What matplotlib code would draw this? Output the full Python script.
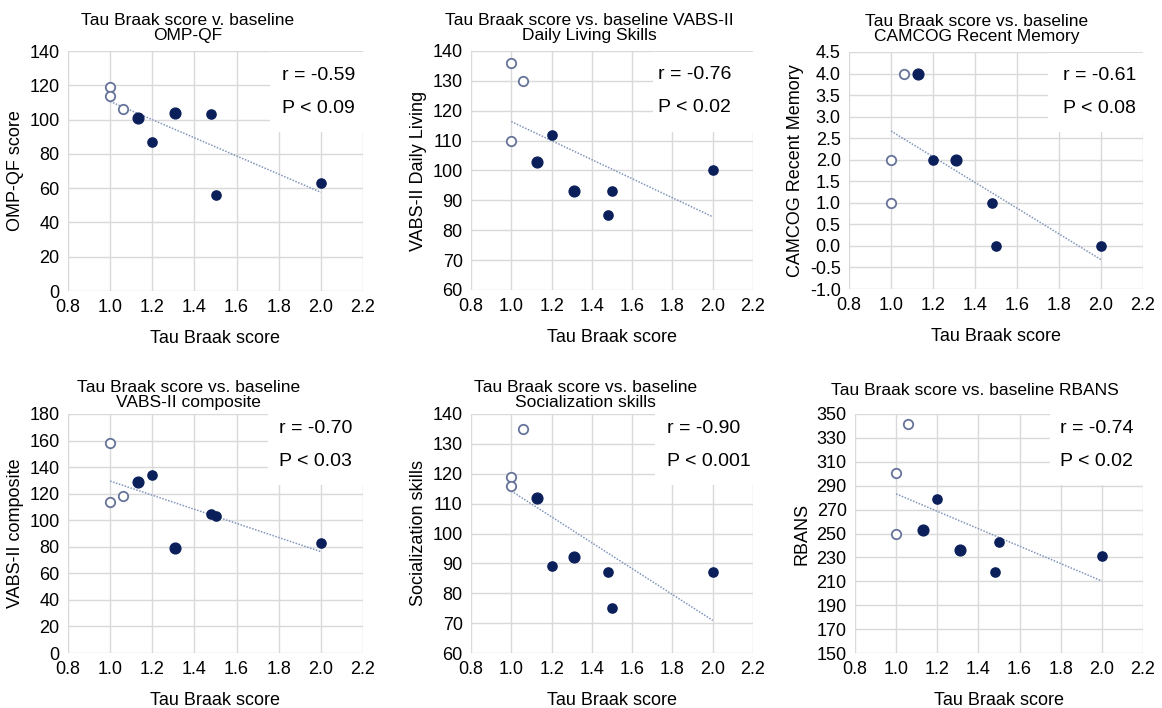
import numpy as np
import matplotlib
matplotlib.use('Agg')
import matplotlib.pyplot as plt
from matplotlib.patches import Rectangle

plt.rcParams['font.family'] = ['Liberation Sans', 'DejaVu Sans']

# per panel: Tau Braak score (x), baseline score (y), 1 = open circle subject
omp_x = [1.0, 1.0, 1.06, 1.13, 1.2, 1.31, 1.48, 1.5, 2.0]
omp_y = [119, 114, 106, 101, 87, 104, 103, 56, 63]
omp_open = [1, 1, 1, 0, 0, 0, 0, 0, 0]

daily_x = [1.0, 1.06, 1.0, 1.13, 1.2, 1.31, 1.48, 1.5, 2.0]
daily_y = [136, 130, 110, 103, 112, 93, 85, 93, 100]
daily_open = [1, 1, 1, 0, 0, 0, 0, 0, 0]

camcog_x = [1.06, 1.0, 1.0, 1.13, 1.2, 1.31, 1.48, 1.5, 2.0]
camcog_y = [4, 2, 1, 4, 2, 2, 1, 0, 0]
camcog_open = [1, 1, 1, 0, 0, 0, 0, 0, 0]

comp_x = [1.0, 1.0, 1.06, 1.13, 1.2, 1.31, 1.48, 1.5, 2.0]
comp_y = [158, 114, 118, 129, 134, 79, 105, 103, 83]
comp_open = [1, 1, 1, 0, 0, 0, 0, 0, 0]

social_x = [1.06, 1.0, 1.0, 1.13, 1.2, 1.31, 1.48, 1.5, 2.0]
social_y = [135, 119, 116, 112, 89, 92, 87, 75, 87]
social_open = [1, 1, 1, 0, 0, 0, 0, 0, 0]

rbans_x = [1.06, 1.0, 1.0, 1.13, 1.2, 1.31, 1.48, 1.5, 2.0]
rbans_y = [342, 301, 250, 253, 279, 236, 218, 243, 231]
rbans_open = [1, 1, 1, 0, 0, 0, 0, 0, 0]

titles = ['Tau Braak score v. baseline\nOMP-QF',
          'Tau Braak score vs. baseline VABS-II\nDaily Living Skills',
          'Tau Braak score vs. baseline\nCAMCOG Recent Memory',
          'Tau Braak score vs. baseline\nVABS-II composite',
          'Tau Braak score vs. baseline\nSocialization skills',
          'Tau Braak score vs. baseline RBANS']
ylabels = ['OMP-QF score', 'VABS-II Daily Living', 'CAMCOG Recent Memory',
           'VABS-II composite', 'Socialization skills', 'RBANS']
r_text = ['r = -0.59', 'r = -0.76', 'r = -0.61', 'r = -0.70', 'r = -0.90', 'r = -0.74']
p_text = ['P < 0.09', 'P < 0.02', 'P < 0.08', 'P < 0.03', 'P < 0.001', 'P < 0.02']
y_ticks = [np.arange(0, 141, 20), np.arange(60, 141, 10), np.arange(-1.0, 4.51, 0.5),
           np.arange(0, 181, 20), np.arange(60, 141, 10), np.arange(150, 351, 20)]
x_ticks = [0.8, 1.0, 1.2, 1.4, 1.6, 1.8, 2.0, 2.2]

xs = [omp_x, daily_x, camcog_x, comp_x, social_x, rbans_x]
ys = [omp_y, daily_y, camcog_y, comp_y, social_y, rbans_y]
opens = [omp_open, daily_open, camcog_open, comp_open, social_open, rbans_open]

W, H = 1162, 708
# axes boxes in pixels: left, right, top, bottom
boxes = [(68, 363, 51, 291), (471, 753, 51, 290), (849, 1143, 52, 289),
         (68, 363, 414, 653), (471, 753, 414, 653), (855, 1143, 414, 653)]
# stat text: x, y of r line, y of P line (axes fraction)
stat_pos = [(0.727, 0.90, 0.762), (0.663, 0.90, 0.762), (0.728, 0.90, 0.762),
            (0.715, 0.94, 0.80), (0.695, 0.94, 0.80), (0.712, 0.94, 0.80)]
# white patch behind stats: x0, y0
patch_pos = [(0.685, 0.662), (0.645, 0.662), (0.677, 0.662),
             (0.678, 0.703), (0.652, 0.703), (0.677, 0.703)]
title_x = [0.405, 0.42, 0.435, 0.408, 0.405, 0.415]
title_pad = [8, 8, 8, 5, 5, 14]

navy = '#0b1f5a'
open_edge = '#66749a'
grid_c = '#d9d9d9'

fig = plt.figure(figsize=(W / 100, H / 100), dpi=100)

for i in range(6):
    l, r, t, b = boxes[i]
    ax = fig.add_axes([l / W, 1 - b / H, (r - l) / W, (b - t) / H])
    x = np.array(xs[i])
    y = np.array(ys[i])
    op = np.array(opens[i]).astype(bool)

    yt = y_ticks[i]
    ax.set_xlim(0.8, 2.2)
    ax.set_ylim(yt[0], yt[-1])
    ax.set_xticks(x_ticks)
    ax.set_xticklabels(['%.1f' % v for v in x_ticks])
    ax.set_yticks(yt)
    if i == 2:
        ax.set_yticklabels(['%.1f' % v for v in yt])
    else:
        ax.set_yticklabels(['%d' % v for v in yt])
    ax.grid(True, color=grid_c, linewidth=1.0)
    ax.set_axisbelow(True)
    for s in ax.spines.values():
        s.set_visible(False)
    ax.tick_params(length=0, labelsize=13, pad=6)

    ax.add_patch(Rectangle(patch_pos[i], 1.2, 0.335, transform=ax.transAxes,
                           facecolor='white', edgecolor='none', zorder=1.5,
                           clip_on=False))

    # linear trend over all subjects
    k, c = np.polyfit(x, y, 1)
    tx = np.array([x.min(), x.max()])
    ax.plot(tx, k * tx + c, linestyle=(0, (1, 1)), color='#8296bb',
            linewidth=1.1, zorder=2)

    ax.scatter(x[op], y[op], s=46, facecolor='white', edgecolor=open_edge,
               linewidth=1.3, zorder=3)
    big = np.isin(x, [1.13, 1.31]) & ~op
    ax.scatter(x[~op & ~big], y[~op & ~big], s=44, color=navy, zorder=3)
    ax.scatter(x[big], y[big], s=60, color=navy, zorder=3)

    sx, ry, py = stat_pos[i]
    ax.text(sx, ry, r_text[i], transform=ax.transAxes, fontsize=14,
            va='center', ha='left', zorder=4)
    ax.text(sx, py, p_text[i], transform=ax.transAxes, fontsize=14,
            va='center', ha='left', zorder=4)

    ax.set_title(titles[i], fontsize=12.5, x=title_x[i], pad=title_pad[i],
                 linespacing=1.0)
    ax.set_ylabel(ylabels[i], fontsize=13, labelpad=4)
    ax.set_xlabel('Tau Braak score', fontsize=13, labelpad=10)

fig.savefig('out.png', dpi=100)
